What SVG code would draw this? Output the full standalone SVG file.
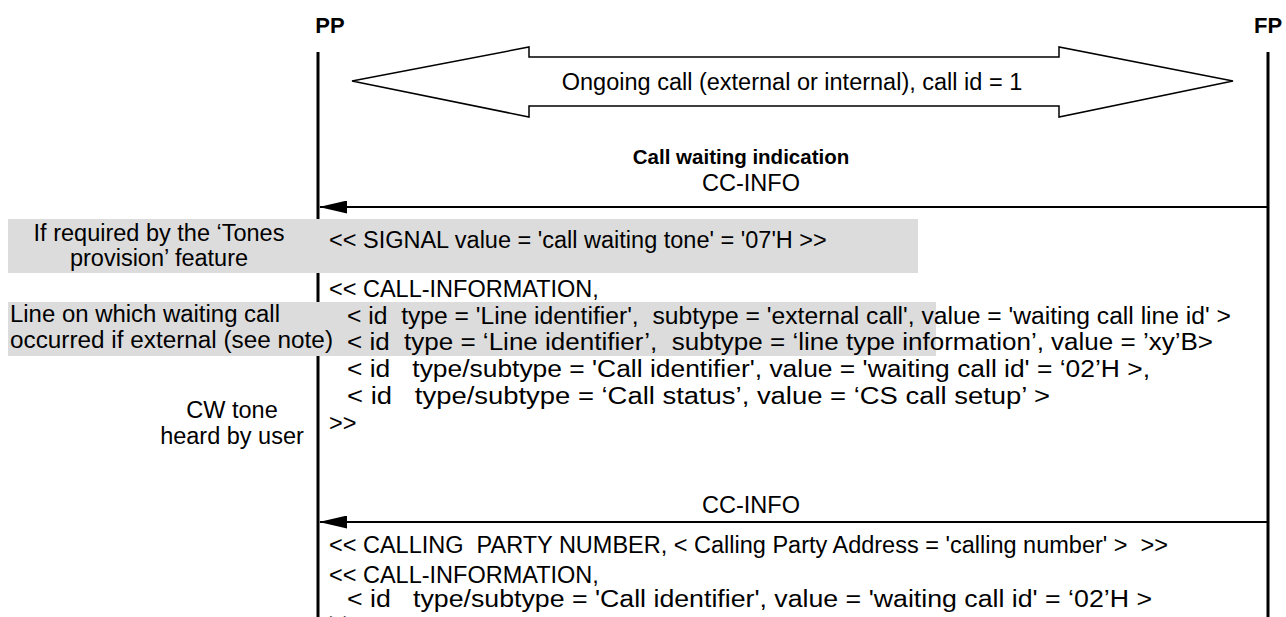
<svg xmlns="http://www.w3.org/2000/svg" width="1286" height="617" viewBox="0 0 1286 617">
<defs>
<style>
text{font-family:"Liberation Sans",Arial,sans-serif;font-size:23.5px;fill:#000}
.b{font-weight:bold;font-size:20.5px}
.h{font-weight:bold;font-size:22px}
.m{text-anchor:middle}
.life{stroke:#000;stroke-width:3}
.msg{stroke:#000;stroke-width:2;fill:none}
.band{fill:#dcdcdc}
</style>
<marker id="ah" markerWidth="28" markerHeight="13" refX="27" refY="6.5" orient="auto" markerUnits="userSpaceOnUse">
<path d="M0,0 L28,6.5 L0,13 Z" fill="#000"/>
</marker>
</defs>
<rect width="1286" height="617" fill="#fff"/>
<g id="PP">
<text class="h m" x="330" y="33">PP</text>
<line class="life" x1="318" y1="52" x2="318" y2="617"/>
</g>
<g id="FP">
<text class="h m" x="1268" y="33">FP</text>
<line class="life" x1="1268" y1="52" x2="1268" y2="617"/>
</g>
<g id="bands">
<rect class="band" x="8" y="219" width="910" height="54"/>
<rect class="band" x="8" y="302" width="928" height="54"/>
</g>
<g id="ongoing">
<polygon points="352,81 529,47 529,57 1059,57 1059,47 1233,81 1059,117 1059,106 529,106 529,117" fill="#fff" stroke="#000" stroke-width="1.5"/>
<text class="m" x="792" y="90">Ongoing call (external or internal), call id = 1</text>
</g>
<g id="connectors">
<line class="msg" x1="1267" y1="207" x2="320" y2="207" marker-end="url(#ah)"/>
<line class="msg" x1="1267" y1="522" x2="320" y2="522" marker-end="url(#ah)"/>
</g>
<g id="msg1">
<text class="b m" x="741" y="164">Call waiting indication</text>
<text class="m" x="751" y="191">CC-INFO</text>
<text x="329" y="248">&lt;&lt; SIGNAL value = 'call waiting tone' = '07'H &gt;&gt;</text>
<text x="329" y="297">&lt;&lt; CALL-INFORMATION,</text>
<text x="347" y="324" xml:space="preserve" textLength="884" lengthAdjust="spacingAndGlyphs">&lt; id  type = 'Line identifier',  subtype = 'external call', value = 'waiting call line id' &gt;</text>
<text x="347" y="350" xml:space="preserve" textLength="866" lengthAdjust="spacingAndGlyphs">&lt; id  type = ‘Line identifier’,  subtype = ‘line type information’, value = ’xy’B&gt;</text>
<text x="347" y="377" xml:space="preserve" textLength="803" lengthAdjust="spacingAndGlyphs">&lt; id   type/subtype = 'Call identifier', value = 'waiting call id' = ‘02’H &gt;,</text>
<text x="347" y="404" xml:space="preserve" textLength="703" lengthAdjust="spacingAndGlyphs">&lt; id   type/subtype = ‘Call status’, value = ‘CS call setup’ &gt;</text>
<text x="329" y="431">&gt;&gt;</text>
</g>
<g id="notes">
<text class="m" x="159" y="241">If required by the ‘Tones</text>
<text class="m" x="159" y="266">provision’ feature</text>
<text x="10" y="322" textLength="270" lengthAdjust="spacingAndGlyphs">Line on which waiting call</text>
<text x="10" y="348" textLength="323" lengthAdjust="spacingAndGlyphs">occurred if external (see note)</text>
<text class="m" x="232" y="418">CW tone</text>
<text class="m" x="232" y="444">heard by user</text>
</g>
<g id="msg2">
<text class="m" x="751" y="513">CC-INFO</text>
<text x="329" y="553" xml:space="preserve">&lt;&lt; CALLING  PARTY NUMBER, &lt; Calling Party Address = 'calling number' &gt;  &gt;&gt;</text>
<text x="329" y="583">&lt;&lt; CALL-INFORMATION,</text>
<text x="347" y="607" xml:space="preserve" textLength="805" lengthAdjust="spacingAndGlyphs">&lt; id   type/subtype = 'Call identifier', value = 'waiting call id' = ‘02’H &gt;</text>
<text x="329" y="630">&gt;&gt;</text>
</g>
</svg>
